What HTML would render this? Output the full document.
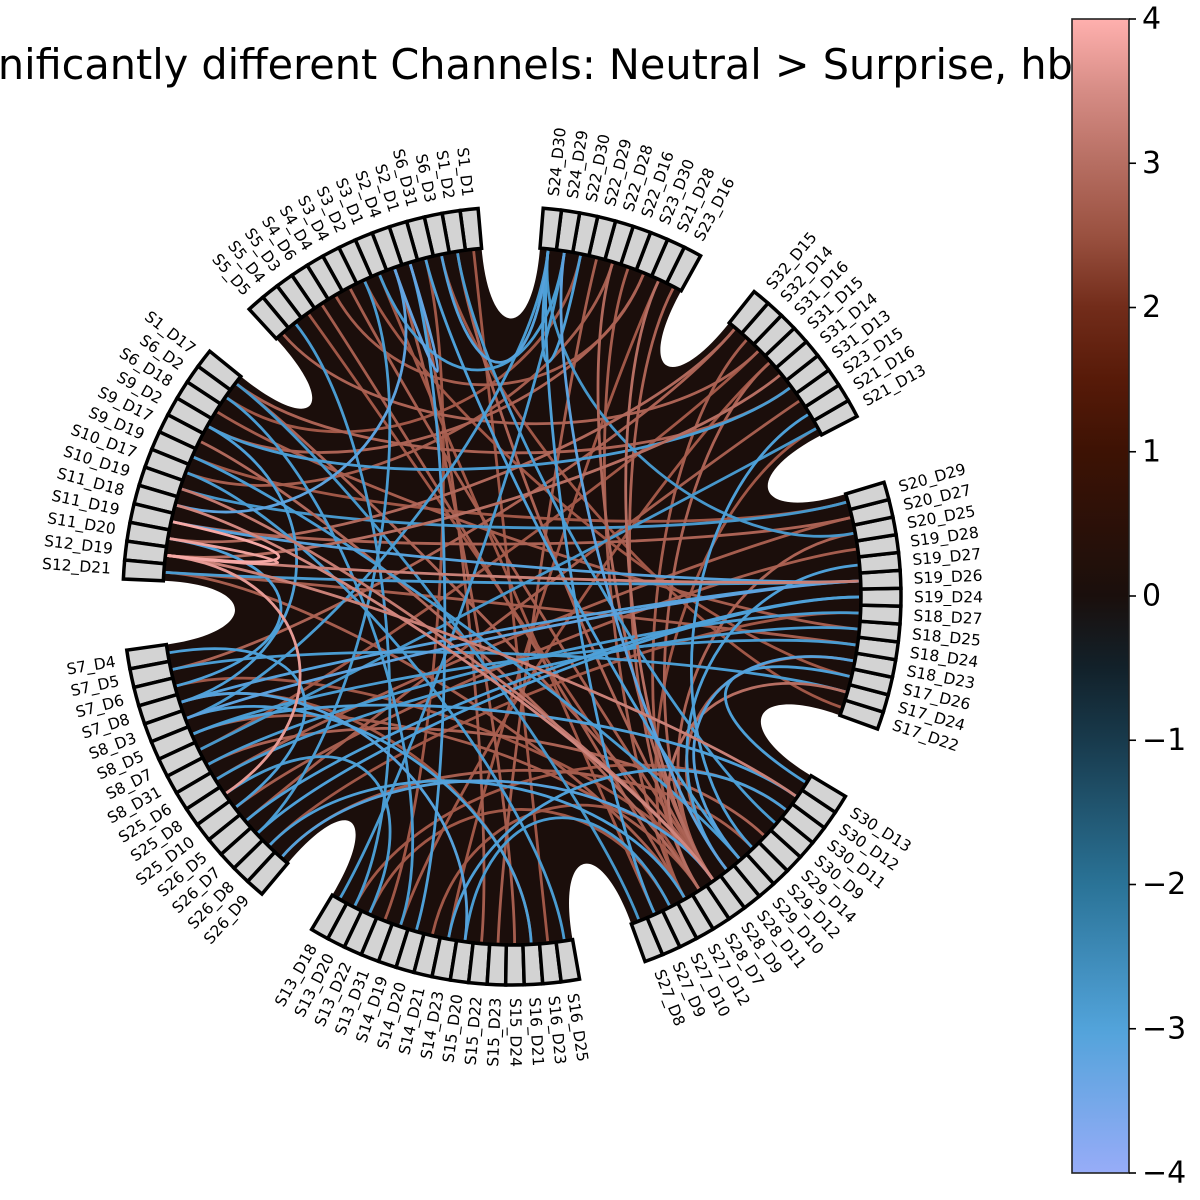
<!DOCTYPE html>
<html><head><meta charset="utf-8"><title>Connectivity circle</title>
<style>html,body{margin:0;padding:0;background:#fff}svg{display:block}</style></head>
<body>
<svg id="chart" width="1200" height="1200" viewBox="0 0 1200 1200" xmlns="http://www.w3.org/2000/svg" font-family="DejaVu Sans, Liberation Sans, sans-serif">
<defs>
<linearGradient id="cbgrad" x1="0" y1="1" x2="0" y2="0">
<stop offset="0" stop-color="#97acf8"/><stop offset="0.125" stop-color="#52a3da"/><stop offset="0.25" stop-color="#2a7397"/><stop offset="0.375" stop-color="#183a4c"/><stop offset="0.4375" stop-color="#12212a"/><stop offset="0.5" stop-color="#1a0f0c"/><stop offset="0.625" stop-color="#3d1204"/><stop offset="0.6875" stop-color="#571a08"/><stop offset="0.75" stop-color="#722c1a"/><stop offset="0.8125" stop-color="#9a5140"/><stop offset="0.875" stop-color="#b66e62"/><stop offset="0.9375" stop-color="#d68c85"/><stop offset="1" stop-color="#ffb0ae"/>
</linearGradient>
</defs>
<text x="516" y="79" font-size="41.4" text-anchor="middle" fill="#000">Significantly different Channels: Neutral &gt; Surprise, hbo</text>
<g id="circle"></g>
<g id="cbar"></g>
</svg>
<script>
const groupNames = [
 ["S21_D13","S21_D16","S23_D15","S31_D13","S31_D14","S31_D15","S31_D16","S32_D14","S32_D15"],
 ["S23_D16","S21_D28","S23_D30","S22_D16","S22_D28","S22_D29","S22_D30","S24_D29","S24_D30"],
 ["S1_D1","S1_D2","S6_D3","S6_D31","S2_D1","S2_D4","S3_D1","S3_D2","S3_D4","S4_D4","S4_D6","S5_D3","S5_D4","S5_D5"],
 ["S1_D17","S6_D2","S6_D18","S9_D2","S9_D17","S9_D19","S10_D17","S10_D19","S11_D18","S11_D19","S11_D20","S12_D19","S12_D21"],
 ["S7_D4","S7_D5","S7_D6","S7_D8","S8_D3","S8_D5","S8_D7","S8_D31","S25_D6","S25_D8","S25_D10","S26_D5","S26_D7","S26_D8","S26_D9"],
 ["S13_D18","S13_D20","S13_D22","S13_D31","S14_D19","S14_D20","S14_D21","S14_D23","S15_D20","S15_D22","S15_D23","S15_D24","S16_D21","S16_D23","S16_D25"],
 ["S27_D8","S27_D9","S27_D10","S27_D12","S28_D7","S28_D9","S28_D11","S29_D10","S29_D12","S29_D14","S30_D9","S30_D11","S30_D12","S30_D13"],
 ["S17_D22","S17_D24","S17_D26","S18_D23","S18_D24","S18_D25","S18_D27","S19_D24","S19_D26","S19_D27","S19_D28","S20_D25","S20_D27","S20_D29"]
];
const groupStart = [27.5, 61, 95, 141, 188, 239, 290, 340];
const groupEnd   = [51.5, 85.4, 132.5, 177.5, 230, 280, 329, 377];

const edgeSrc = ["S1_D2","S3_D4","S5_D3","S4_D6","S22_D28","S23_D16","S21_D28","S22_D16","S31_D15","S32_D14","S21_D13","S1_D17","S9_D17","S10_D19","S11_D18","S12_D21","S7_D6","S8_D5","S20_D25","S18_D23","S17_D24","S14_D21","S13_D22",
"S12_D19","S12_D19","S12_D19","S12_D19","S12_D19","S11_D20","S12_D19","S11_D19","S12_D21",
"S1_D17","S6_D2","S6_D18","S1_D1","S2_D4","S3_D2","S5_D5","S4_D4","S6_D31","S22_D29","S21_D28","S23_D30","S22_D28","S31_D16","S23_D15","S32_D15","S19_D28","S20_D29","S18_D27","S29_D12","S30_D11","S16_D21","S15_D22","S14_D19","S29_D14","S27_D9","S20_D27","S17_D22",
"S24_D30","S24_D30","S24_D29","S24_D30","S24_D29","S24_D30","S24_D29","S24_D30","S2_D1","S2_D1","S2_D4","S1_D2","S6_D31","S3_D2","S19_D26","S19_D26","S19_D24","S19_D26","S18_D24","S18_D25","S17_D26","S18_D23","S19_D27","S31_D13","S21_D13","S21_D16","S9_D19","S10_D17","S6_D2","S1_D17","S7_D4","S7_D8","S8_D3","S8_D5","S25_D8","S26_D9","S26_D7","S8_D31","S7_D5","S15_D20","S14_D23","S13_D20","S10_D19","S12_D21","S11_D20","S9_D2","S26_D8"];
const edgeDst = ["S28_D9","S28_D9","S28_D7","S27_D12","S28_D9","S28_D7","S28_D9","S27_D12","S28_D9","S28_D7","S27_D12","S28_D9","S28_D7","S28_D9","S28_D9","S27_D12","S28_D9","S28_D7","S28_D9","S28_D11","S28_D7","S28_D9","S27_D10",
"S11_D19","S11_D20","S25_D8","S19_D26","S31_D14","S32_D15","S30_D12","S20_D27","S18_D24",
"S31_D13","S22_D30","S18_D25","S16_D23","S15_D24","S17_D26","S31_D16","S23_D30","S13_D31","S15_D23","S14_D23","S9_D2","S10_D17","S8_D7","S26_D5","S7_D5","S25_D10","S9_D19","S26_D8","S26_D9","S13_D20","S7_D8","S2_D1","S31_D15","S8_D31","S3_D1","S25_D6","S6_D3",
"S6_D3","S27_D9","S3_D1","S22_D30","S28_D11","S8_D3","S13_D18","S20_D25","S14_D20","S2_D4","S11_D18","S30_D9","S29_D10","S26_D7","S8_D3","S7_D8","S26_D5","S11_D19","S8_D5","S25_D6","S30_D13","S29_D10","S28_D11","S9_D2","S8_D7","S29_D12","S29_D10","S16_D25","S14_D19","S27_D8","S25_D10","S15_D20","S16_D21","S30_D12","S13_D22","S28_D9","S19_D24","S18_D27","S17_D24","S27_D10","S30_D11","S5_D4","S20_D29","S19_D26","S7_D6","S7_D8","S27_D12"];
const edgeVal = [2.8,2.7,2.6,2.7,2.9,2.8,3.0,2.7,2.8,2.7,2.6,2.8,2.9,3.2,3.4,2.7,2.6,2.7,2.8,2.7,3.0,2.6,2.6,
3.9,3.8,3.7,3.3,3.0,2.9,3.3,2.8,2.7,
2.8,2.6,2.7,2.6,2.7,2.6,2.8,2.7,2.6,2.7,2.6,2.8,2.7,2.6,2.7,2.8,2.7,2.6,2.6,2.7,2.6,2.6,2.7,2.6,2.8,2.6,2.7,2.6,
-3.1,-3.0,-2.9,-3.0,-3.2,-2.9,-2.9,-2.8,-3.0,-3.3,-3.2,-2.9,-3.0,-2.9,-3.2,-3.1,-3.0,-3.1,-2.9,-2.9,-3.0,-3.1,-3.0,-2.9,-2.8,-3.0,-2.9,-2.9,-2.9,-2.8,-3.0,-3.1,-3.0,-3.0,-2.9,-3.1,-3.0,-2.9,-2.9,-2.9,-3.0,-2.9,-2.8,-2.9,-3.0,-3.0,-3.0];

const cbTicks = [4,3,2,1,0,-1,-2,-3,-4];
const cbTickLabels = ["4","3","2","1","0","\u22121","\u22122","\u22123","\u22124"];

const NS = "http://www.w3.org/2000/svg";
const CX = 512, CY = 596, RIN = 349, ROUT = 389, RC = 200, RNOTCH = 255;
const cmapStops = [[-4,[151,172,248]],[-3,[78,160,216]],[-2,[42,115,151]],[-1,[24,58,76]],[-0.5,[18,33,42]],[0,[26,15,12]],[1,[61,18,4]],[1.5,[87,26,8]],[2,[114,44,26]],[2.5,[154,81,64]],[3,[182,110,98]],[3.5,[214,140,133]],[4,[255,176,174]]];
function cmap(v){
  v = Math.max(-4, Math.min(4, v));
  for (let i=0;i<cmapStops.length-1;i++){
    const a=cmapStops[i], b=cmapStops[i+1];
    if (v>=a[0] && v<=b[0]){
      const t=(v-a[0])/(b[0]-a[0]);
      const c=a[1].map((x,k)=>Math.round(x+(b[1][k]-x)*t));
      return "rgb("+c.join(",")+")";
    }
  }
  return "#000";
}
function pt(angDeg, r){ const a=angDeg*Math.PI/180; return [CX + r*Math.cos(a), CY - r*Math.sin(a)]; }
function f(p){ return p[0].toFixed(2)+" "+p[1].toFixed(2); }

const g = document.getElementById("circle");
const nodeAngle = {}, nodeHalf = {};
groupNames.forEach((names, gi) => {
  const step = (groupEnd[gi]-groupStart[gi]) / names.length;
  names.forEach((n, k) => { nodeAngle[n] = groupStart[gi] + step*(k+0.5); nodeHalf[n] = step/2; });
});

let d = "";
for (let gi=0; gi<groupNames.length; gi++){
  const s = groupStart[gi], e = groupEnd[gi];
  const ps = pt(s, RIN), pe = pt(e, RIN);
  d += (gi===0 ? "M "+f(ps) : " L "+f(ps)) + " A "+RIN+" "+RIN+" 0 0 0 "+f(pe);
  const ns = groupStart[(gi+1)%groupNames.length] + (gi===groupNames.length-1 ? 360 : 0);
  d += " C "+f(pt(e, RNOTCH))+" "+f(pt(ns, RNOTCH))+" "+f(pt(ns, RIN));
}
d += " Z";
const bg = document.createElementNS(NS, "path");
bg.setAttribute("d", d);
bg.setAttribute("fill", "#1b0e0b");


g.appendChild(bg);

const order = edgeVal.map((v,i)=>i).sort((a,b)=>Math.abs(edgeVal[a])-Math.abs(edgeVal[b]));
const chords = document.createElementNS(NS, "g");


g.appendChild(chords);
order.forEach(i => {
  const a = nodeAngle[edgeSrc[i]], b = nodeAngle[edgeDst[i]];
  if (a===undefined || b===undefined) return;
  const p = document.createElementNS(NS, "path");
  p.setAttribute("d", "M "+f(pt(a,RIN-2))+" C "+f(pt(a,RC))+" "+f(pt(b,RC))+" "+f(pt(b,RIN-2)));
  p.setAttribute("fill", "none");
  p.setAttribute("stroke", cmap(edgeVal[i]));
  p.setAttribute("stroke-width", "2.8");
  
  
  chords.appendChild(p);
});

Object.keys(nodeAngle).forEach(n => {
  const a = nodeAngle[n], h = nodeHalf[n];
  const p1 = pt(a-h, RIN), p2 = pt(a+h, RIN), p3 = pt(a+h, ROUT), p4 = pt(a-h, ROUT);
  const box = document.createElementNS(NS, "path");
  box.setAttribute("d", "M "+f(p1)+" A "+RIN+" "+RIN+" 0 0 0 "+f(p2)+" L "+f(p3)+" A "+ROUT+" "+ROUT+" 0 0 1 "+f(p4)+" Z");
  box.setAttribute("fill", "#d3d3d3");
  box.setAttribute("stroke", "#000");
  box.setAttribute("stroke-width", "3.5");
  
  
  g.appendChild(box);
  const t = document.createElementNS(NS, "text");
  const lp = pt(a, 402);
  let an = ((a % 360) + 360) % 360;
  const right = (an < 90 || an > 270);
  const rot = right ? -an : 180 - an;
  t.setAttribute("x", lp[0].toFixed(2));
  t.setAttribute("y", lp[1].toFixed(2));
  t.setAttribute("font-size", "15.5");
  t.setAttribute("dominant-baseline", "central");
  t.setAttribute("text-anchor", right ? "start" : "end");
  t.setAttribute("transform", "rotate(" + rot.toFixed(2) + " " + lp[0].toFixed(2) + " " + lp[1].toFixed(2) + ")");
  t.textContent = n;
  
  
  g.appendChild(t);
});

const cb = document.getElementById("cbar");
const CBX = 1072, CBW = 57, CBTOP = 19, CBBOT = 1173;
function cbY(v){ return CBBOT - (v + 4) / 8 * (CBBOT - CBTOP); }
const bgr = document.createElementNS(NS, "rect");
bgr.setAttribute("x", CBX-1); bgr.setAttribute("y", 0); bgr.setAttribute("width", 129); bgr.setAttribute("height", 1200); bgr.setAttribute("fill", "#fff");


cb.appendChild(bgr);
const r = document.createElementNS(NS, "rect");
r.setAttribute("x", CBX); r.setAttribute("y", CBTOP); r.setAttribute("width", CBW); r.setAttribute("height", CBBOT-CBTOP);
r.setAttribute("fill", "url(#cbgrad)"); r.setAttribute("stroke", "#222"); r.setAttribute("stroke-width", "1.6");


cb.appendChild(r);
cbTicks.forEach((v, i) => {
  const y = cbY(v);
  const ln = document.createElementNS(NS, "line");
  ln.setAttribute("x1", CBX+CBW); ln.setAttribute("x2", CBX+CBW+7); ln.setAttribute("y1", y); ln.setAttribute("y2", y);
  ln.setAttribute("stroke", "#000"); ln.setAttribute("stroke-width", "1.6");
  
  
  cb.appendChild(ln);
  const t = document.createElementNS(NS, "text");
  t.setAttribute("x", CBX+CBW+13); t.setAttribute("y", y);
  t.setAttribute("font-size", "30"); t.setAttribute("dominant-baseline", "central");
  t.textContent = cbTickLabels[i];
  
  
  cb.appendChild(t);
});
</script>
</body></html>
